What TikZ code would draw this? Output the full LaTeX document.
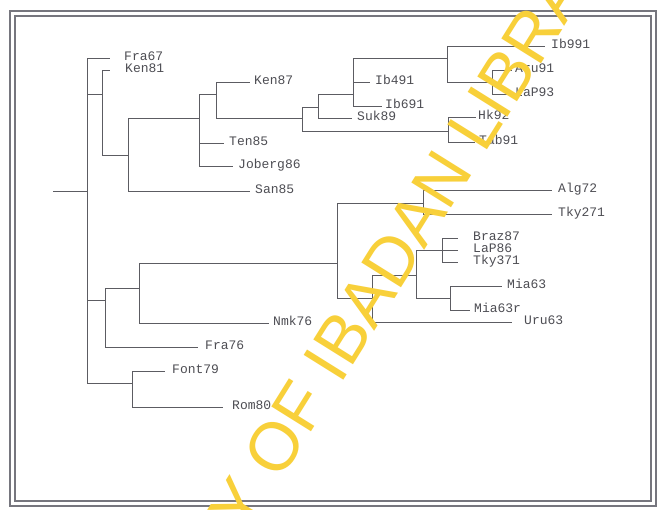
\documentclass[tikz,border=0pt]{standalone}
\usepackage{fontspec}
\setmonofont{Liberation Mono}
\setsansfont{Liberation Sans}
\usetikzlibrary{positioning}
\definecolor{ink}{RGB}{78,78,84}
\definecolor{edge}{RGB}{92,92,98}
\definecolor{frame}{RGB}{118,118,126}
\definecolor{stamp}{RGB}{248,208,58}

\begin{document}
\begin{tikzpicture}[
  x=1pt, y=-1pt,
  every node/.style={font=\ttfamily\fontsize{13}{14}\selectfont, text=ink},
  taxon/.style={anchor=west, inner sep=0pt, text height=1.3ex, text depth=0pt},
  branch/.style={draw=edge, line width=0.9pt},
  twig/.style={draw=edge, line width=0.9pt, shorten >=#1},
  twig/.default=4pt,
  stampmark/.style={font=\sffamily\fontsize{68}{68}\selectfont, text=stamp,
                    rotate=58, inner sep=0pt}
]
\useasboundingbox (0,0) rectangle (661,509);
\clip (0,0) rectangle (661,509);
\fill[white] (0,0) rectangle (661,509);

% frame
\draw[frame, line width=2.6pt] (10,11) rectangle (656,506);
\draw[frame, line width=1.8pt] (15,16) rectangle (651,501);

% taxa
\node[taxon] (fra67)    at (124,58)  {Fra67};
\node[taxon] (ken81)    at (125,70)  {Ken81};
\node[taxon] (ken87)    at (254,82)  {Ken87};
\node[taxon] (ib991)    at (551,46)  {Ib991};
\node[taxon] (aru91)    at (515,70)  {Aru91};
\node[taxon] (lap93)    at (515,94)  {LaP93};
\node[taxon] (ib491)    at (375,82)  {Ib491};
\node[taxon] (ib691)    at (385,106) {Ib691};
\node[taxon] (suk89)    at (357,118) {Suk89};
\node[taxon] (hk92)     at (478,117) {Hk92};
\node[taxon] (tab91)    at (479,142) {Tab91};
\node[taxon] (ten85)    at (229,143) {Ten85};
\node[taxon] (joberg86) at (238,166) {Joberg86};
\node[taxon] (san85)    at (255,191) {San85};
\node[taxon] (alg72)    at (558,190) {Alg72};
\node[taxon] (tky271)   at (558,214) {Tky271};
\node[taxon] (braz87)   at (473,238) {Braz87};
\node[taxon] (lap86)    at (473,250) {LaP86};
\node[taxon] (tky371)   at (473,262) {Tky371};
\node[taxon] (mia63)    at (507,286) {Mia63};
\node[taxon] (mia63r)   at (474,310) {Mia63r};
\node[taxon] (uru63)    at (524,322) {Uru63};
\node[taxon] (nmk76)    at (273,323) {Nmk76};
\node[taxon] (fra76)    at (205,347) {Fra76};
\node[taxon] (font79)   at (172,371) {Font79};
\node[taxon] (rom80)    at (232,407) {Rom80};

% inner nodes of the tree
\coordinate (base) at (53,191);
\coordinate (root) at (87,191);
\coordinate (n1)   at (102,94);
\coordinate (n2)   at (128,155);
\coordinate (n3)   at (199,118);
\coordinate (n4)   at (216,94);
\coordinate (n5)   at (302,118);
\coordinate (n6)   at (318,107);
\coordinate (n6a)  at (353,94);
\coordinate (n6b)  at (447,58);
\coordinate (n6c)  at (492,82);
\coordinate (n7)   at (448,131);
\coordinate (n8)   at (105,300);
\coordinate (n9)   at (139,288);
\coordinate (n10)  at (337,263);
\coordinate (n10a) at (423,203);
\coordinate (n11)  at (372,298);
\coordinate (n11a) at (416,275);
\coordinate (n11b) at (442,250);
\coordinate (n11c) at (450,298);
\coordinate (n12)  at (132,383);

% upper clade
\draw[branch] (base) -- (root);
\draw[twig=14pt] (root) |- (fra67.west);
\draw[branch] (root) |- (n1);
\draw[twig=15pt] (n1) |- (ken81.west);
\draw[branch] (n1) |- (n2);
\draw[branch] (n2) |- (n3);
\draw[twig=5pt] (n2) |- (san85.west);
\draw[branch] (n3) |- (n4);
\draw[twig=5pt] (n3) |- (ten85.west);
\draw[twig=5pt] (n3) |- (joberg86.west);
\draw[twig] (n4) |- (ken87.west);
\draw[branch] (n4) |- (n5);
\draw[branch] (n5) |- (n6);
\draw[branch] (n5) |- (n7);
\draw[branch] (n6) |- (n6a);
\draw[twig=5pt] (n6) |- (suk89.west);
\draw[branch] (n6a) |- (n6b);
\draw[twig=5pt] (n6a) |- (ib491.west);
\draw[twig=3pt] (n6a) |- (ib691.west);
\draw[twig=6pt] (n6b) |- (ib991.west);
\draw[branch] (n6b) |- (n6c);
\draw[twig=3pt] (n6c) |- (aru91.west);
\draw[twig=3pt] (n6c) |- (lap93.west);
\draw[twig=2pt] (n7) |- (hk92.west);
\draw[twig] (n7) |- (tab91.west);

% lower clade
\draw[branch] (root) |- (n8);
\draw[branch] (root) |- (n12);
\draw[branch] (n8) |- (n9);
\draw[twig=7pt] (n8) |- (fra76.west);
\draw[branch] (n9) |- (n10);
\draw[twig] (n9) |- (nmk76.west);
\draw[branch] (n10) |- (n10a);
\draw[branch] (n10) |- (n11);
\draw[twig=6pt] (n10a) |- (alg72.west);
\draw[twig=6pt] (n10a) |- (tky271.west);
\draw[branch] (n11) |- (n11a);
\draw[twig=12pt] (n11) |- (uru63.west);
\draw[branch] (n11a) |- (n11b);
\draw[branch] (n11a) |- (n11c);
\draw[twig=15pt] (n11b) |- (braz87.west);
\draw[twig=15pt] (n11b) |- (lap86.west);
\draw[twig=15pt] (n11b) |- (tky371.west);
\draw[twig=5pt] (n11c) |- (mia63.west);
\draw[twig] (n11c) |- (mia63r.west);
\draw[twig=7pt] (n12) |- (font79.west);
\draw[twig=9pt] (n12) |- (rom80.west);

% library stamp
\node[stampmark] (stamp) at (326,364) {UNIVERSITY OF IBADAN LIBRARY};

\end{tikzpicture}
\end{document}
